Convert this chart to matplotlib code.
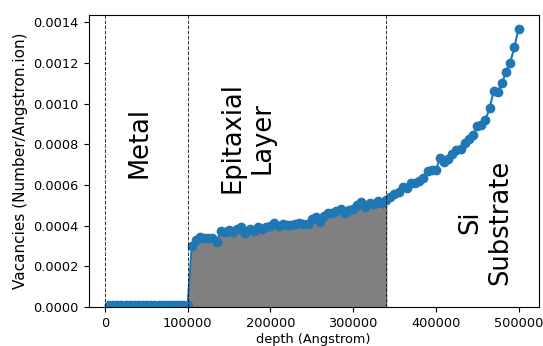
import numpy as np
import matplotlib.pyplot as plt

# Vacancy profile, 5000 A bins
depth = np.arange(5000, 500001, 5000)
metal_vac = [0.000008] * 20
layer_vac = [
    0.000300, 0.000330, 0.000345, 0.000340, 0.000338, 0.000340, 0.000322, 0.000372,
    0.000370, 0.000378, 0.000368, 0.000385, 0.000392, 0.000362, 0.000382, 0.000375,
    0.000392, 0.000382, 0.000392, 0.000400, 0.000414, 0.000397, 0.000410, 0.000404,
    0.000402, 0.000410, 0.000412, 0.000406, 0.000408, 0.000432, 0.000442, 0.000420,
    0.000448, 0.000460, 0.000463, 0.000470, 0.000480, 0.000463, 0.000475, 0.000484,
    0.000500, 0.000517, 0.000493, 0.000512, 0.000505, 0.000520, 0.000512, 0.000524,
]
substrate_vac = [
    0.000542, 0.000556, 0.000567, 0.000590, 0.000585, 0.000608, 0.000612, 0.000622,
    0.000634, 0.000670, 0.000672, 0.000672, 0.000731, 0.000714, 0.000730, 0.000755,
    0.000772, 0.000776, 0.000808, 0.000825, 0.000846, 0.000888, 0.000895, 0.000920,
    0.000977, 0.001062, 0.001059, 0.001100, 0.001158, 0.001202, 0.001278, 0.001368,
]
vacancies = np.array(metal_vac + layer_vac + substrate_vac)

boundaries = [0, 100000, 340000]
regions = [
    (41700, 0.000635, "Metal", "bottom"),
    (172400, 0.000561, "Epitaxial\nLayer", "bottom"),
    (459700, 0.000418, "Si\nSubstrate", "center"),
]

fig = plt.figure(figsize=(5.43, 3.46), dpi=100)
ax = fig.add_axes([0.163, 0.1127, 0.8296, 0.844])

layer = (depth >= boundaries[1]) & (depth <= boundaries[2])
ax.fill_between(depth, vacancies, where=layer, color="gray")
ax.plot(depth, vacancies, marker="o", markersize=6, linewidth=1.5, color="tab:blue")

for b in boundaries:
    ax.axvline(b, color="k", linestyle="--", linewidth=0.7, alpha=0.8)

for x, y, label, va in regions:
    ax.text(x, y, label, rotation=90, fontsize=18.5, ha="center", va=va,
            multialignment="center")

ax.set_ylim(0, vacancies.max() * 1.05)
ax.set_xlabel("depth (Angstrom)", fontsize=9.3, labelpad=2)
ax.set_ylabel("Vacancies (Number/Angstron.ion)", fontsize=11, labelpad=4)
ax.tick_params(labelsize=9.3)

fig.savefig("out.png", dpi=100)
